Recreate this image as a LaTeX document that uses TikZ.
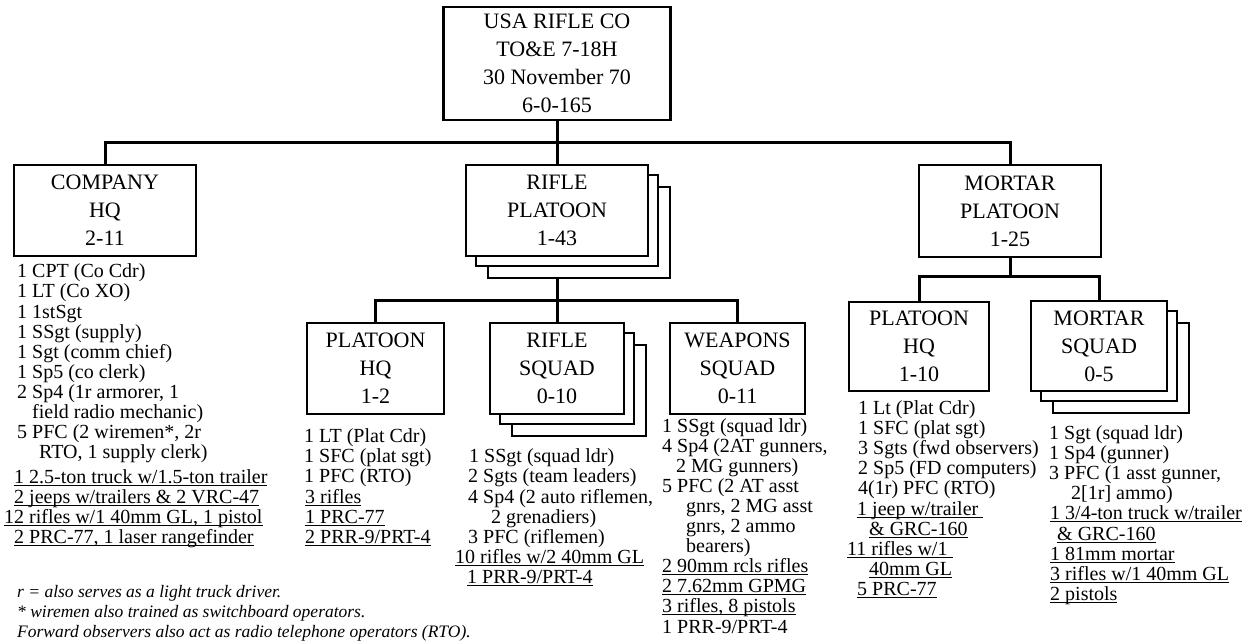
\documentclass[tikz,border=0pt]{standalone}
\usepackage{fontspec}
\setmainfont{Liberation Serif}
\newcommand\ulx[1]{\setbox0=\hbox{#1}\rlap{\rule[-2.8pt]{\wd0}{1.3pt}}\box0}
\begin{document}
\begin{tikzpicture}[x=1pt,y=-1pt,
  box/.style={draw, line width=2.2pt, fill=white, inner sep=0pt, align=center, font=\fontsize{22}{28}\selectfont},
  conn/.style={line width=3pt},
  lst/.style={anchor=base west, inner sep=0pt, font=\fontsize{20}{20}\selectfont},
  note/.style={anchor=base west, inner sep=0pt, font=\fontsize{17.5}{20}\selectfont\itshape}]
\useasboundingbox (0,0) rectangle (1250,644);
% boxes
\node[box, minimum width=227, minimum height=113] (top) at (557,63.5) {USA RIFLE CO\\TO\&E 7-18H\\30 November 70\\6-0-165};
\node[box, minimum width=182, minimum height=91] (chq) at (105,210.5) {COMPANY\\HQ\\2-11};
\node[box, minimum width=182, minimum height=91] (rpl3) at (579,232.5) {};
\node[box, minimum width=182, minimum height=91] (rpl2) at (567,220.5) {};
\node[box, minimum width=182, minimum height=91] (rpl) at (557,210.5) {RIFLE\\PLATOON\\1-43};
\node[box, minimum width=182, minimum height=92] (mpl) at (1010,211) {MORTAR\\PLATOON\\1-25};
\node[box, minimum width=137, minimum height=91] (phq) at (375.5,368.5) {PLATOON\\HQ\\1-2};
\node[box, minimum width=134, minimum height=91] (rsq3) at (579,390.5) {};
\node[box, minimum width=134, minimum height=91] (rsq2) at (567,378.5) {};
\node[box, minimum width=134, minimum height=91] (rsq) at (557,368.5) {RIFLE\\SQUAD\\0-10};
\node[box, minimum width=135, minimum height=91] (wsq) at (737.5,368.5) {WEAPONS\\SQUAD\\0-11};
\node[box, minimum width=140, minimum height=89] (mhq) at (919,346.5) {PLATOON\\HQ\\1-10};
\node[box, minimum width=136, minimum height=90] (msq3) at (1121,368) {};
\node[box, minimum width=136, minimum height=90] (msq2) at (1109,356) {};
\node[box, minimum width=136, minimum height=90] (msq) at (1099,346) {MORTAR\\SQUAD\\0-5};
% connectors
\coordinate (bus1) at (557,143);
\coordinate (bus2) at (557,301);
\coordinate (bus3) at (1010,277);
\draw[conn] (top.south) -- (bus1);
\draw[conn] (chq.north) |- (bus1) -| (mpl.north);
\draw[conn] (bus1) -- (rpl.north);
\draw[conn] (rpl3.south -| rpl.south) -- (rsq.north);
\draw[conn] (phq.north) |- (bus2) -| (wsq.north);
\draw[conn] (mpl.south) -- (bus3);
\draw[conn] (mhq.north) |- (bus3) -| (msq.north);
% company HQ list
\node[lst] (c1) at (17,278) {1 CPT (Co Cdr)};
\node[lst] (c2) at (17,298) {1 LT (Co XO)};
\node[lst] (c3) at (17,318) {1 1stSgt};
\node[lst] (c4) at (17,338) {1 SSgt (supply)};
\node[lst] (c5) at (17,358) {1 Sgt (comm chief)};
\node[lst] (c6) at (17,378) {1 Sp5 (co clerk)};
\node[lst] (c7) at (17,398) {2 Sp4 (1r armorer, 1};
\node[lst] (c8) at (32,418) {field radio mechanic)};
\node[lst] (c9) at (17,438) {5 PFC (2 wiremen*, 2r};
\node[lst] (c10) at (39,458) {RTO, 1 supply clerk)};
\node[lst] (c11) at (14,483) {\ulx{1 2.5-ton truck w/1.5-ton trailer}};
\node[lst] (c12) at (14,503) {\ulx{2 jeeps w/trailers \& 2 VRC-47}};
\node[lst] (c13) at (4,523) {\ulx{12 rifles w/1 40mm GL, 1 pistol}};
\node[lst] (c14) at (14,543) {\ulx{2 PRC-77, 1 laser rangefinder}};
% footnotes
\node[note] (f1) at (17,597) {r = also serves as a light truck driver.};
\node[note] (f2) at (17,617) {* wiremen also trained as switchboard operators.};
\node[note] (f3) at (17,637) {Forward observers also act as radio telephone operators (RTO).};
% platoon HQ 1-2
\node[lst] (p1) at (304,442) {1 LT (Plat Cdr)};
\node[lst] (p2) at (304,462) {1 SFC (plat sgt)};
\node[lst] (p3) at (304,482) {1 PFC (RTO)};
\node[lst] (p4) at (305,503) {\ulx{3 rifles}};
\node[lst] (p5) at (305,523) {\ulx{1 PRC-77}};
\node[lst] (p6) at (305,543) {\ulx{2 PRR-9/PRT-4}};
% rifle squad
\node[lst] (r1) at (469,462) {1 SSgt (squad ldr)};
\node[lst] (r2) at (468,482) {2 Sgts (team leaders)};
\node[lst] (r3) at (468,503) {4 Sp4 (2 auto riflemen,};
\node[lst] (r4) at (491,523) {2 grenadiers)};
\node[lst] (r5) at (468,543) {3 PFC (riflemen)};
\node[lst] (r6) at (455,563) {\ulx{10 rifles w/2 40mm GL}};
\node[lst] (r7) at (467,583) {\ulx{1 PRR-9/PRT-4}};
% weapons squad
\node[lst] (w1) at (662,432) {1 SSgt (squad ldr)};
\node[lst] (w2) at (662,452) {4 Sp4 (2AT gunners,};
\node[lst] (w3) at (676,472) {2 MG gunners)};
\node[lst] (w4) at (662,492) {5 PFC (2 AT asst};
\node[lst] (w5) at (686,512) {gnrs, 2 MG asst};
\node[lst] (w6) at (686,532) {gnrs, 2 ammo};
\node[lst] (w7) at (686,552) {bearers)};
\node[lst] (w8) at (662,572) {\ulx{2 90mm rcls rifles}};
\node[lst] (w9) at (662,592) {\ulx{2 7.62mm GPMG}};
\node[lst] (w10) at (662,612) {\ulx{3 rifles, 8 pistols}};
\node[lst] (w11) at (662,633) {1 PRR-9/PRT-4};
% mortar platoon HQ
\node[lst] (m1) at (858,414) {1 Lt (Plat Cdr)};
\node[lst] (m2) at (858,434) {1 SFC (plat sgt)};
\node[lst] (m3) at (858,454) {3 Sgts (fwd observers)};
\node[lst] (m4) at (858,474) {2 Sp5 (FD computers)};
\node[lst] (m5) at (858,494) {4(1r) PFC (RTO)};
\node[lst] (m6) at (857,515) {\ulx{1 jeep w/trailer\ }};
\node[lst] (m7) at (869,535) {\ulx{\& GRC-160}};
\node[lst] (m8) at (847,555) {\ulx{11 rifles w/1\ }};
\node[lst] (m9) at (869,575) {\ulx{40mm GL}};
\node[lst] (m10) at (857,595) {\ulx{5 PRC-77}};
% mortar squad
\node[lst] (s1) at (1049,439) {1 Sgt (squad ldr)};
\node[lst] (s2) at (1049,459) {1 Sp4 (gunner)};
\node[lst] (s3) at (1049,479) {3 PFC (1 asst gunner,};
\node[lst] (s4) at (1071,499) {2[1r] ammo)};
\node[lst] (s5) at (1050,519) {\ulx{1 3/4-ton truck w/trailer}};
\node[lst] (s6) at (1057,540) {\ulx{\& GRC-160}};
\node[lst] (s7) at (1050,560) {\ulx{1 81mm mortar}};
\node[lst] (s8) at (1050,580) {\ulx{3 rifles w/1 40mm GL}};
\node[lst] (s9) at (1050,600) {\ulx{2 pistols}};
\end{tikzpicture}
\end{document}
